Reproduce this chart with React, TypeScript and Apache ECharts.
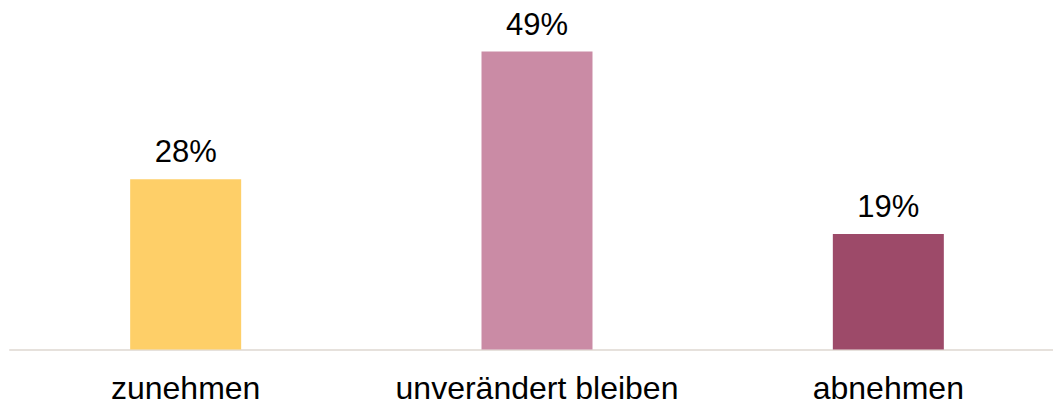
import React, { useEffect, useRef } from "react";
import * as echarts from "echarts";

const categories = ["zunehmen", "unverändert bleiben", "abnehmen"];
const values = [28, 49, 19];
const colors = ["#FECF68", "#CA8BA5", "#9D4A69"];

export default function App() {
  const ref = useRef<HTMLDivElement>(null);
  useEffect(() => {
    const chart = echarts.init(ref.current!, null, { renderer: "svg" });
    chart.setOption({
      animation: false,
      grid: { left: 10, right: 0, top: 45.5, bottom: 54.5, containLabel: false },
      xAxis: {
        type: "category",
        data: categories,
        axisLine: { show: true, lineStyle: { color: "#E6E1DC", width: 2 } },
        axisTick: { show: false },
        axisLabel: {
          interval: 0,
          hideOverlap: false,
          color: "#000",
          fontFamily: "Liberation Sans, Arial, sans-serif",
          fontSize: 32,
          margin: 22,
        },
      },
      yAxis: {
        type: "value",
        min: 0,
        max: 50,
        show: false,
        splitLine: { show: false },
      },
      series: [
        {
          type: "bar",
          barWidth: 111,
          data: values.map((v, i) => ({ value: v, itemStyle: { color: colors[i] } })),
          label: {
            show: true,
            position: "top",
            distance: 12,
            formatter: "{c}%",
            color: "#000",
            fontFamily: "Liberation Sans, Arial, sans-serif",
            fontSize: 31,
          },
        },
      ],
    });
    return () => chart.dispose();
  }, []);
  return (
    <div
      style={{ position: "absolute", left: 0, top: 0, width: 1053, height: 404, overflow: "hidden" }}
    >
      <div ref={ref} style={{ width: 1064, height: 404 }} />
    </div>
  );
}
